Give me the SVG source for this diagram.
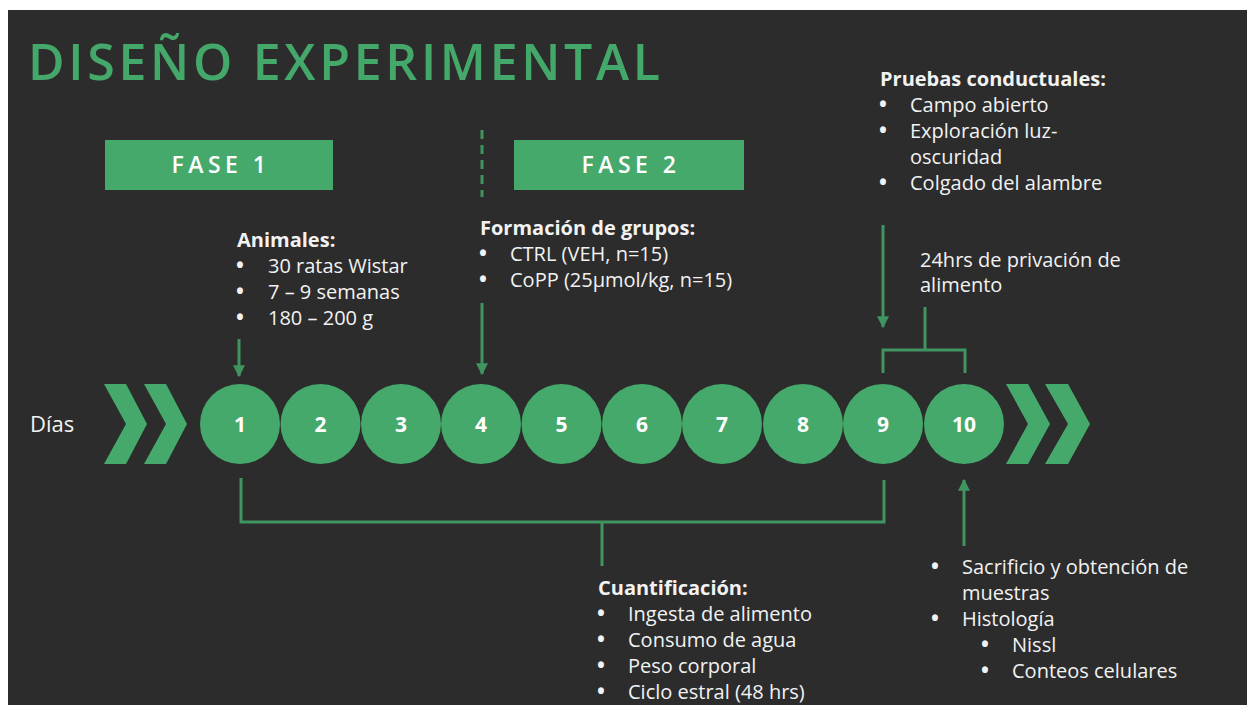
<svg xmlns="http://www.w3.org/2000/svg" width="1247" height="705" viewBox="0 0 1247 705">
<defs>
<style>
.bg{fill:#2c2c2c}
.g{fill:#46a96c}
.ln{stroke:#3f9460;stroke-width:3;fill:none}
.t{font-family:"Open Sans","Liberation Sans",sans-serif;font-size:20px;fill:#f2f2f2}
.b{font-weight:bold}
.u{font-weight:bold;font-size:21px}
.num{font-family:"Open Sans","Liberation Sans",sans-serif;font-size:21px;font-weight:bold;fill:#ffffff;text-anchor:middle}
.fase{font-family:"Open Sans","Liberation Sans",sans-serif;font-size:23px;font-weight:600;fill:#ffffff;text-anchor:middle;letter-spacing:4.5px}
</style>
<marker id="ah" viewBox="0 0 10 10" refX="9" refY="5" markerWidth="4" markerHeight="4" orient="auto" markerUnits="strokeWidth">
<path d="M0,0 L10,5 L0,10 z" fill="#3f9460"/>
</marker>
</defs>
<rect x="0" y="0" width="1247" height="705" fill="#ffffff"/>
<rect class="bg" x="8" y="10" width="1239" height="695"/>
<text x="28" y="80" textLength="632" lengthAdjust="spacing" style="font-family:'Open Sans','Liberation Sans',sans-serif;font-size:50px;font-weight:600;fill:#45a86b">DISEÑO EXPERIMENTAL</text>

<g id="fase1"><rect class="g" x="105" y="140" width="228" height="50"/><text class="fase" x="221" y="173">FASE 1</text></g>
<g id="fase2"><rect class="g" x="514" y="140" width="230" height="50"/><text class="fase" x="631" y="173">FASE 2</text></g>

<g id="chevrons-left">
<polygon class="g" points="104,384 126,384 147,424 126,464 104,464 126,424"/>
<polygon class="g" points="144,384 166,384 187,424 166,464 144,464 166,424"/>
</g>
<g id="chevrons-right">
<polygon class="g" points="1006,384 1028,384 1050,424 1028,464 1006,464 1028,424"/>
<polygon class="g" points="1045,384 1068,384 1090,424 1068,464 1045,464 1068,424"/>
</g>
<text class="t" x="30" y="432" style="font-size:22px">Días</text>

<g id="day1"><circle class="g" cx="240" cy="424" r="40"/><text class="num" x="240" y="432">1</text></g>
<g id="day2"><circle class="g" cx="320.5" cy="424" r="40"/><text class="num" x="320.5" y="432">2</text></g>
<g id="day3"><circle class="g" cx="401" cy="424" r="40"/><text class="num" x="401" y="432">3</text></g>
<g id="day4"><circle class="g" cx="481" cy="424" r="40"/><text class="num" x="481" y="432">4</text></g>
<g id="day5"><circle class="g" cx="561.5" cy="424" r="40"/><text class="num" x="561.5" y="432">5</text></g>
<g id="day6"><circle class="g" cx="642" cy="424" r="40"/><text class="num" x="642" y="432">6</text></g>
<g id="day7"><circle class="g" cx="722" cy="424" r="40"/><text class="num" x="722" y="432">7</text></g>
<g id="day8"><circle class="g" cx="803" cy="424" r="40"/><text class="num" x="803" y="432">8</text></g>
<g id="day9"><circle class="g" cx="883" cy="424" r="40"/><text class="num" x="883" y="432">9</text></g>
<g id="day10"><circle class="g" cx="964" cy="424" r="40"/><text class="num" x="964" y="432">10</text></g>

<g id="connectors">
<line class="ln" x1="482" y1="130" x2="482" y2="197" stroke-dasharray="9,6"/>
<line class="ln" x1="239" y1="339" x2="239" y2="376" marker-end="url(#ah)"/>
<line class="ln" x1="482" y1="303" x2="482" y2="374" marker-end="url(#ah)"/>
<line class="ln" x1="883" y1="225" x2="883" y2="327" marker-end="url(#ah)"/>
<polyline class="ln" points="883,373 883,350 965,350 965,373"/>
<line class="ln" x1="925" y1="307" x2="925" y2="350"/>
<polyline class="ln" points="241,478 241,522 884,522 884,480"/>
<line class="ln" x1="602" y1="522" x2="602" y2="566"/>
<line class="ln" x1="964" y1="546" x2="964" y2="480" marker-end="url(#ah)"/>
</g>

<g id="animales" class="t">
<text class="b" x="237" y="247">Animales:</text>
<text class="u" x="236" y="273">•</text><text x="268" y="273">30 ratas Wistar</text>
<text class="u" x="236" y="299">•</text><text x="268" y="299">7 – 9 semanas</text>
<text class="u" x="236" y="325">•</text><text x="268" y="325">180 – 200 g</text>
</g>
<g id="grupos" class="t">
<text class="b" x="480" y="235">Formación de grupos:</text>
<text class="u" x="479" y="261">•</text><text x="510" y="261">CTRL (VEH, n=15)</text>
<text class="u" x="479" y="287">•</text><text x="510" y="287">CoPP (25μmol/kg, n=15)</text>
</g>
<g id="pruebas" class="t">
<text class="b" x="880" y="86">Pruebas conductuales:</text>
<text class="u" x="879" y="112">•</text><text x="910" y="112">Campo abierto</text>
<text class="u" x="879" y="138">•</text><text x="910" y="138">Exploración luz-</text>
<text x="910" y="164">oscuridad</text>
<text class="u" x="879" y="190">•</text><text x="910" y="190">Colgado del alambre</text>
</g>
<g id="privacion" class="t">
<text x="920" y="267">24hrs de privación de</text>
<text x="920" y="292">alimento</text>
</g>
<g id="cuantificacion" class="t">
<text class="b" x="598" y="595">Cuantificación:</text>
<text class="u" x="597" y="621">•</text><text x="628" y="621">Ingesta de alimento</text>
<text class="u" x="597" y="647">•</text><text x="628" y="647">Consumo de agua</text>
<text class="u" x="597" y="673">•</text><text x="628" y="673">Peso corporal</text>
<text class="u" x="597" y="699">•</text><text x="628" y="699">Ciclo estral (48 hrs)</text>
</g>
<g id="sacrificio" class="t">
<text class="u" x="931" y="574">•</text><text x="962" y="574">Sacrificio y obtención de</text>
<text x="962" y="600">muestras</text>
<text class="u" x="931" y="626">•</text><text x="962" y="626">Histología</text>
<text class="u" x="981" y="652">•</text><text x="1012" y="652">Nissl</text>
<text class="u" x="981" y="678">•</text><text x="1012" y="678">Conteos celulares</text>
</g>
</svg>
